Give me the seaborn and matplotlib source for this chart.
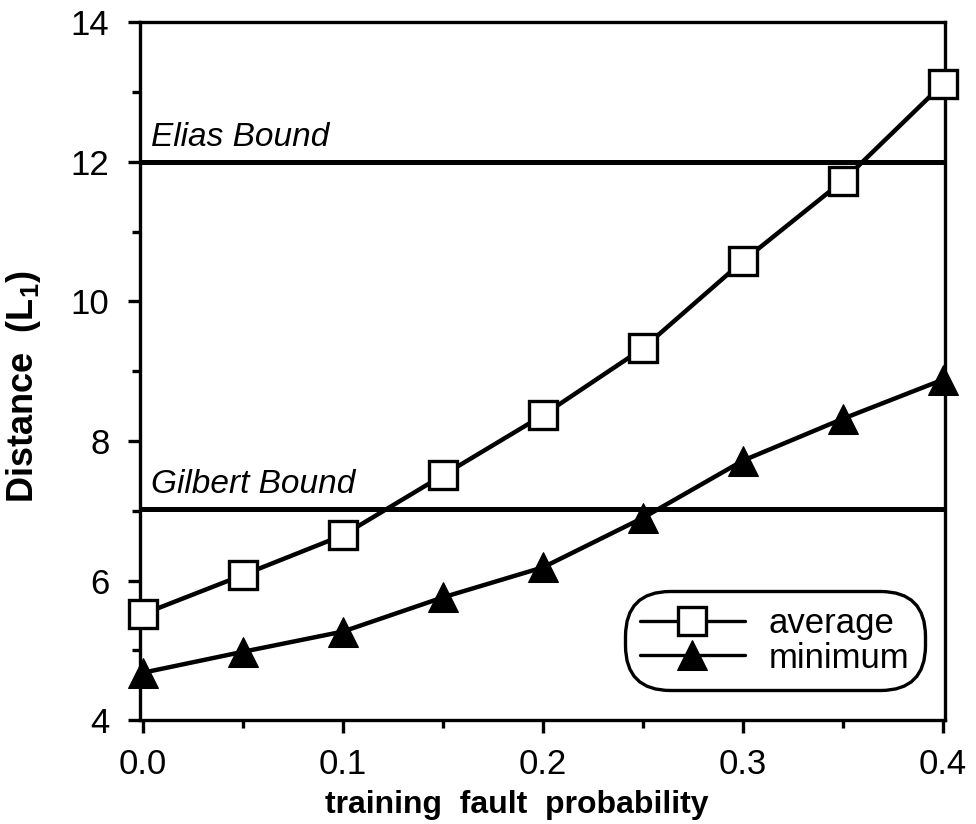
import matplotlib
matplotlib.use('Agg')
import matplotlib.pyplot as plt
import seaborn as sns
from matplotlib.ticker import MultipleLocator, FormatStrFormatter

# Data
fault_prob = [0.0, 0.05, 0.10, 0.15, 0.20, 0.25, 0.30, 0.35, 0.40]
dist_average = [5.52, 6.08, 6.65, 7.51, 8.37, 9.33, 10.58, 11.73, 13.12]
dist_minimum = [4.68, 4.98, 5.27, 5.76, 6.19, 6.90, 7.72, 8.32, 8.88]
elias_bound = 12.0
gilbert_bound = 7.03

sns.set_theme(style='ticks')
plt.rcParams['font.family'] = ['Liberation Sans', 'DejaVu Sans']
plt.rcParams['text.color'] = 'black'
plt.rcParams['axes.labelcolor'] = 'black'
plt.rcParams['mathtext.fontset'] = 'custom'
plt.rcParams['mathtext.bf'] = 'Liberation Sans:bold'

fig = plt.figure(figsize=(9.76, 8.24), dpi=100)
ax = fig.add_axes([0.1434, 0.126, 0.825, 0.847])

# Bound lines
ax.axhline(elias_bound, color='black', lw=3.6, zorder=1)
ax.axhline(gilbert_bound, color='black', lw=3.6, zorder=1)
ax.text(0.004, elias_bound + 0.12, 'Elias Bound', fontsize=24, style='italic', va='bottom', ha='left')
ax.text(0.004, gilbert_bound + 0.12, 'Gilbert Bound', fontsize=24, style='italic', va='bottom', ha='left')

# Data series
sns.lineplot(ax=ax, x=fault_prob, y=dist_average, color='black', lw=3.2,
             marker='s', markersize=20, markerfacecolor='white',
             markeredgecolor='black', markeredgewidth=2.4, label='average',
             zorder=3, clip_on=False)
sns.lineplot(ax=ax, x=fault_prob, y=dist_minimum, color='black', lw=3.2,
             marker='^', markersize=22, markerfacecolor='black',
             markeredgecolor='black', label='minimum', zorder=3, clip_on=False)

ax.set_xlim(-0.0015, 0.401)
ax.set_ylim(4, 14)
ax.xaxis.set_major_locator(MultipleLocator(0.1))
ax.xaxis.set_minor_locator(MultipleLocator(0.05))
ax.xaxis.set_major_formatter(FormatStrFormatter('%.1f'))
ax.yaxis.set_major_locator(MultipleLocator(2))
ax.yaxis.set_minor_locator(MultipleLocator(1))

ax.tick_params(axis='both', which='major', direction='out', length=9, width=2.4,
               labelsize=25, color='black', labelcolor='black')
ax.tick_params(axis='y', which='major', pad=13)
ax.tick_params(axis='x', which='major', pad=11)
ax.tick_params(axis='both', which='minor', direction='out', length=6, width=2.4, color='black')

for spine in ax.spines.values():
    spine.set_visible(True)
    spine.set_linewidth(2.4)
    spine.set_color('black')

ax.set_xlabel('training  fault  probability', fontsize=23, fontweight='bold')
ax.set_ylabel(r'Distance  (L$_\mathbf{1}$)', fontsize=26, fontweight='bold')
ax.xaxis.set_label_coords(0.468, -0.1)
ax.yaxis.set_label_coords(-0.12, 0.477)

leg = ax.legend(loc='lower right', bbox_to_anchor=(0.988, 0.028), fontsize=25,
                frameon=True, fancybox=True, edgecolor='black', framealpha=1,
                handlelength=3.0, labelspacing=0.05, borderpad=0.25, handletextpad=0.7)
leg.get_frame().set_linewidth(2.4)
leg.get_frame().set_boxstyle('round,pad=0.2,rounding_size=1.3')
for line in leg.get_lines():
    line.set_linewidth(2.4)

fig.savefig('out.png', dpi=100)
